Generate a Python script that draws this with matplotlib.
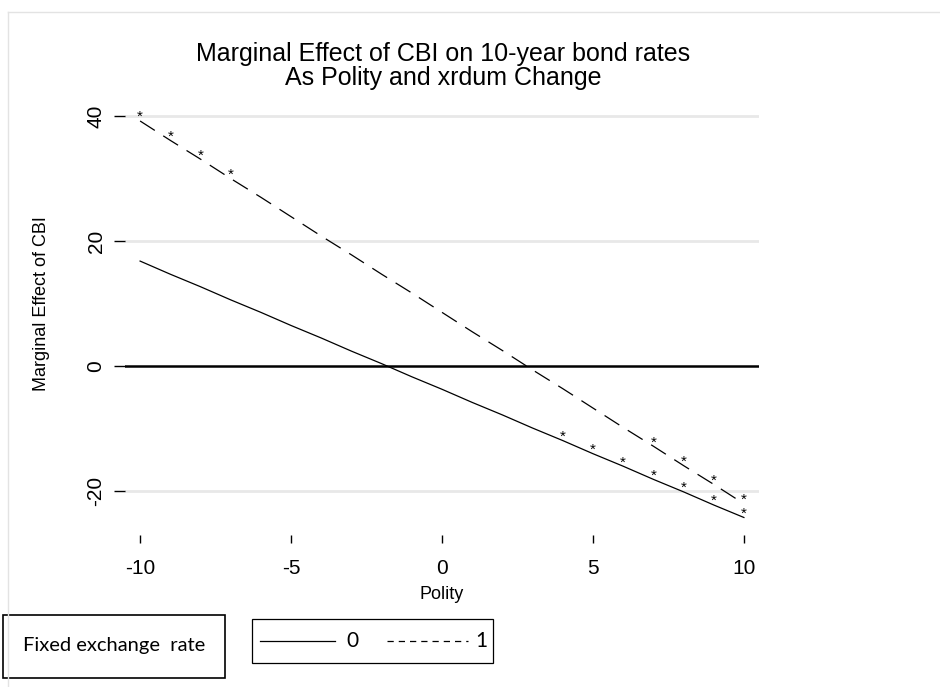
import matplotlib.pyplot as plt
from matplotlib.lines import Line2D
from matplotlib.patches import Rectangle

# ------------------------------
# data
# ------------------------------
polity = [-10, -9, -8, -7, -6, -5, -4, -3, -2, -1, 0, 1, 2, 3, 4, 5, 6, 7, 8, 9, 10]
me_fixed0 = [16.8, 14.7, 12.7, 10.6, 8.6, 6.5, 4.5, 2.4, 0.4, -1.7, -3.7,
             -5.8, -7.8, -9.9, -11.9, -14.0, -16.0, -18.1, -20.1, -22.2, -24.2]
me_fixed1 = [39.2, 36.1, 33.1, 30.0, 27.0, 23.9, 20.8, 17.8, 14.7, 11.7, 8.6,
             5.5, 2.5, -0.6, -3.6, -6.7, -9.8, -12.8, -15.9, -18.9, -22.0]
# points marked significant with "*"
sig0 = [4, 5, 6, 7, 8, 9, 10]
sig1 = [-10, -9, -8, -7, 7, 8, 9, 10]

xticks = [-10, -5, 0, 5, 10]
yticks = [-20, 0, 20, 40]

W, H = 940, 687
fig = plt.figure(figsize=(W / 100, H / 100), dpi=100)
fig.patch.set_facecolor("white")


def fx(px):
    return px / W


def fy(py):
    return 1 - py / H


ax = fig.add_axes([fx(125), fy(535), fx(759) - fx(125), fy(106.6) - fy(535)])
ax.set_xlim(-10.5, 10.5)
ax.set_ylim(-27, 41.5)

for y in yticks:
    if y != 0:
        ax.axhline(y, color="#e8e8e8", lw=2, zorder=0)
ax.axhline(0, color="black", lw=1.8, zorder=1)

ax.plot(polity, me_fixed0, color="black", lw=0.9, zorder=2)
ax.plot(polity, me_fixed1, color="black", lw=0.9, dashes=(14, 8), zorder=2)

for p in sig0:
    ax.text(p, me_fixed0[polity.index(p)] + 0.6, "*", ha="center", va="center",
            fontsize=11, family="Liberation Sans")
for p in sig1:
    ax.text(p, me_fixed1[polity.index(p)] + 0.6, "*", ha="center", va="center",
            fontsize=11, family="Liberation Sans")

for s in ax.spines.values():
    s.set_visible(False)

ax.set_xticks(xticks)
ax.set_xticklabels([str(v) for v in xticks])
ax.set_yticks(yticks)
ax.set_yticklabels([str(v) for v in yticks], rotation=90, va="center")
ax.tick_params(axis="x", length=6, width=1, pad=11, labelsize=15)
ax.tick_params(axis="y", length=8, width=1, pad=6, labelsize=15)
for lab in ax.get_xticklabels() + ax.get_yticklabels():
    lab.set_family("Liberation Sans")

ax.set_xlabel("Polity", fontsize=13, family="Liberation Sans", labelpad=6)
ax.set_ylabel("Marginal Effect of CBI", fontsize=13, family="Liberation Sans")
ax.yaxis.set_label_coords(fx(50), fy(304), transform=fig.transFigure)

fig.text(fx(443), fy(66), "Marginal Effect of CBI on 10-year bond rates\nAs Polity and xrdum Change",
         ha="center", va="center", fontsize=18, family="Liberation Sans", linespacing=0.98)

# page border lines
fig.add_artist(Line2D([fx(8), 1], [fy(12), fy(12)], transform=fig.transFigure, color="#e3e3e3", lw=1))
fig.add_artist(Line2D([fx(8), fx(8)], [fy(12), 0], transform=fig.transFigure, color="#e3e3e3", lw=1))

# legend boxes
fig.add_artist(Rectangle((fx(3), fy(678)), fx(225) - fx(3), fy(615) - fy(678),
                         transform=fig.transFigure, fill=False, ec="black", lw=1.2))
fig.text(fx(114), fy(646), "Fixed exchange  rate", ha="center", va="center",
         fontsize=14.5, family="Lato")
fig.add_artist(Rectangle((fx(252), fy(663)), fx(493) - fx(252), fy(619) - fy(663),
                         transform=fig.transFigure, fill=False, ec="black", lw=0.9))
fig.add_artist(Line2D([fx(260), fx(335)], [fy(641), fy(641)], transform=fig.transFigure,
                      color="black", lw=0.9))
fig.text(fx(352), fy(641), "0", ha="center", va="center", fontsize=15, family="Lato")
fig.add_artist(Line2D([fx(387), fx(468)], [fy(641), fy(641)], transform=fig.transFigure,
                      color="black", lw=0.9, dashes=(5, 4)))
fig.text(fx(481), fy(641), "1", ha="center", va="center", fontsize=15, family="Lato")

fig.savefig("out.png", dpi=100)
